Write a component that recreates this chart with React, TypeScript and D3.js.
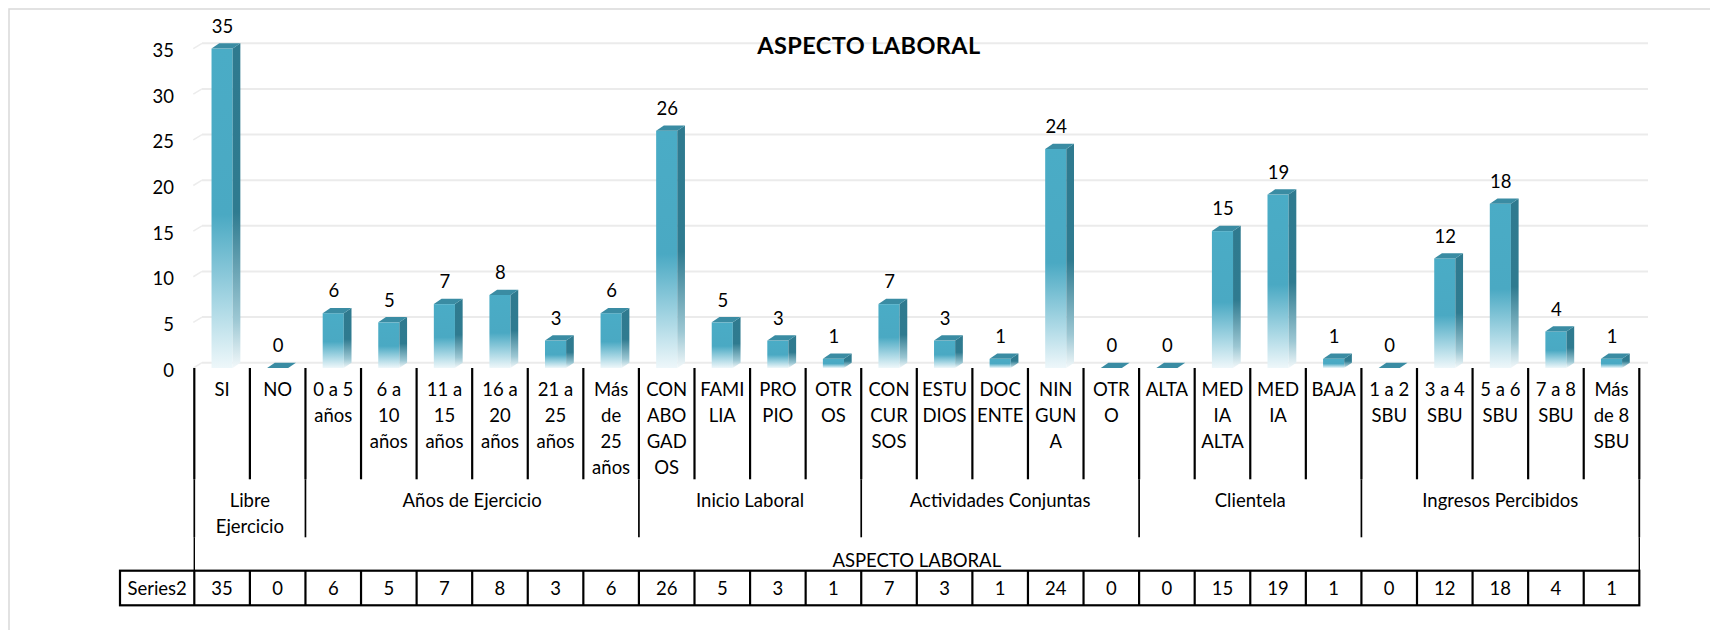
import React from "react";
import * as d3 from "d3";

const title = "ASPECTO LABORAL";
const axisTitle = "ASPECTO LABORAL";
const seriesName = "Series2";

const categoryLines: string[][] = [
  ["SI"], ["NO"], ["0 a 5", "años"], ["6 a", "10", "años"], ["11 a", "15", "años"],
  ["16 a", "20", "años"], ["21 a", "25", "años"], ["Más", "de", "25", "años"],
  ["CON", "ABO", "GAD", "OS"], ["FAMI", "LIA"], ["PRO", "PIO"], ["OTR", "OS"],
  ["CON", "CUR", "SOS"], ["ESTU", "DIOS"], ["DOC", "ENTE"], ["NIN", "GUN", "A"], ["OTR", "O"],
  ["ALTA"], ["MED", "IA", "ALTA"], ["MED", "IA"], ["BAJA"],
  ["1 a 2", "SBU"], ["3 a 4", "SBU"], ["5 a 6", "SBU"], ["7 a 8", "SBU"], ["Más", "de 8", "SBU"],
];

const values: number[] = [35, 0, 6, 5, 7, 8, 3, 6, 26, 5, 3, 1, 7, 3, 1, 24, 0, 0, 15, 19, 1, 0, 12, 18, 4, 1];

const groupLabels: string[][] = [
  ["Libre", "Ejercicio"], ["Años de Ejercicio"], ["Inicio Laboral"],
  ["Actividades Conjuntas"], ["Clientela"], ["Ingresos Percibidos"],
];
const groupSizes: number[] = [2, 6, 4, 5, 4, 5];

const yTicks: number[] = [0, 5, 10, 15, 20, 25, 30, 35];

const FONT = "Lato, 'Open Sans', sans-serif";
const FS = 18.5;

export default function App() {
  const W = 1710, H = 630;
  const x0 = 194.3, x1 = 1639.3;
  const dx = 7.7, dy = 5.3;
  const idx = values.map((_, i) => i);
  const x = d3.scaleBand<number>().domain(idx).range([x0, x1]).padding(0);
  const y = d3.scaleLinear().domain([0, 35]).range([362.7, 43.3]);
  const bw = x.bandwidth();
  const fw = bw * 0.38;
  const yBase = y(0) + dy;

  const catTop = yBase;
  const lvl1Bottom = 479.3;
  const lvl2Bottom = 537.3;
  const tableTop = 570.7;
  const tableBottom = 605.3;
  const tableLeft = 120;

  const boundaries: number[] = [];
  let acc = 0;
  groupSizes.forEach((s) => { boundaries.push(acc); acc += s; });
  boundaries.push(acc);

  return (
    <svg width={W} height={H} style={{ position: "absolute", left: 0, top: 0, background: "#fff" }} fontFamily={FONT}>
      <defs>
        <linearGradient id="frontG" x1="0" y1="0" x2="0" y2="1">
          <stop offset="0" stopColor="#4aacc6" />
          <stop offset="0.52" stopColor="#4aa9c3" />
          <stop offset="0.8" stopColor="#a9d7e4" />
          <stop offset="1" stopColor="#eef7fa" />
        </linearGradient>
        <linearGradient id="sideG" x1="0" y1="0" x2="0" y2="1">
          <stop offset="0" stopColor="#2f7a8f" />
          <stop offset="0.52" stopColor="#2f7b90" />
          <stop offset="0.85" stopColor="#9cc7d3" />
          <stop offset="1" stopColor="#f2f8fa" />
        </linearGradient>
      </defs>
      <rect x={0} y={0} width={W} height={H} fill="#fff" />
      <rect x={9} y={9} width={W + 20} height={H + 20} fill="none" stroke="#d9d9d9" strokeWidth={1.5} />

      {yTicks.map((t) => (
        <g key={"g" + t}>
          <line x1={x0 - 1} y1={y(t) + dy} x2={x0 + dx} y2={y(t)} stroke="#ececec" strokeWidth={1.5} />
          <line x1={x0 + dx} y1={y(t)} x2={x1 + dx + 1} y2={y(t)} stroke="#ebebeb" strokeWidth={2} />
        </g>
      ))}

      {yTicks.map((t) => (
        <text key={"yt" + t} x={174} y={y(t) + dy + 8.6} textAnchor="end" fontSize={FS} fill="#000">{t}</text>
      ))}

      <text x={869} y={54} textAnchor="middle" fontSize={23.5} fontWeight="bold" letterSpacing={0.4} fill="#000">{title}</text>

      {values.map((v, i) => {
        const xc = (x(i) as number) + bw / 2;
        const xl = xc - fw / 2;
        const yt = y(v) + dy;
        const h = yBase - yt;
        return (
          <g key={"b" + i}>
            {h > 0.5 && (
              <>
                <rect x={xl} y={yt} width={fw} height={h} fill="url(#frontG)" />
                <polygon
                  points={`${xl + fw},${yt} ${xl + fw + dx},${yt - dy} ${xl + fw + dx},${yBase - dy} ${xl + fw},${yBase}`}
                  fill="url(#sideG)"
                />
              </>
            )}
            <polygon
              points={`${xl},${yt} ${xl + dx},${yt - dy} ${xl + fw + dx},${yt - dy} ${xl + fw},${yt}`}
              fill="#3a8ca3"
            />
            <text x={xc + 0.5} y={y(v) - 10.5} textAnchor="middle" fontSize={FS} fill="#000">{v}</text>
          </g>
        );
      })}

      {categoryLines.map((lines, i) => {
        const xc = (x(i) as number) + bw / 2;
        return (
          <text key={"c" + i} textAnchor="middle" fontSize={FS} fill="#000">
            {lines.map((l, j) => (
              <tspan key={j} x={xc} y={395.7 + j * 26}>{l}</tspan>
            ))}
          </text>
        );
      })}

      {d3.range(0, values.length + 1).map((i) => {
        const xx = i < values.length ? (x(i) as number) : x1;
        return <line key={"t" + i} x1={xx} y1={catTop} x2={xx} y2={lvl1Bottom} stroke="#000" strokeWidth={2.2} />;
      })}

      {boundaries.map((b, k) => {
        const xx = b < values.length ? (x(b) as number) : x1;
        const outer = k === 0 || k === boundaries.length - 1;
        return (
          <g key={"gs" + k}>
            <line x1={xx} y1={lvl1Bottom} x2={xx} y2={lvl2Bottom} stroke="#000" strokeWidth={1.7} />
            {outer && <line x1={xx} y1={lvl2Bottom} x2={xx} y2={tableTop} stroke="#000" strokeWidth={1.4} />}
          </g>
        );
      })}

      {groupLabels.map((lines, k) => {
        const a = x(boundaries[k]) as number;
        const bEnd = boundaries[k + 1];
        const b = bEnd < values.length ? (x(bEnd) as number) : x1;
        const xc = (a + b) / 2;
        return (
          <text key={"gl" + k} textAnchor="middle" fontSize={FS} fill="#000">
            {lines.map((l, j) => (
              <tspan key={j} x={xc} y={507.1 + j * 26}>{l}</tspan>
            ))}
          </text>
        );
      })}

      <text x={(x0 + x1) / 2} y={566.5} textAnchor="middle" fontSize={FS} fill="#000">{axisTitle}</text>

      <rect x={tableLeft} y={tableTop} width={x1 - tableLeft} height={tableBottom - tableTop} fill="none" stroke="#000" strokeWidth={2.2} />
      {d3.range(0, values.length).map((i) => (
        <line key={"tv" + i} x1={x(i) as number} y1={tableTop} x2={x(i) as number} y2={tableBottom} stroke="#000" strokeWidth={2.2} />
      ))}
      <text x={(tableLeft + x0) / 2} y={594.7} textAnchor="middle" fontSize={FS} fill="#000">{seriesName}</text>
      {values.map((v, i) => (
        <text key={"tx" + i} x={(x(i) as number) + bw / 2} y={594.7} textAnchor="middle" fontSize={FS} fill="#000">{v}</text>
      ))}
    </svg>
  );
}
